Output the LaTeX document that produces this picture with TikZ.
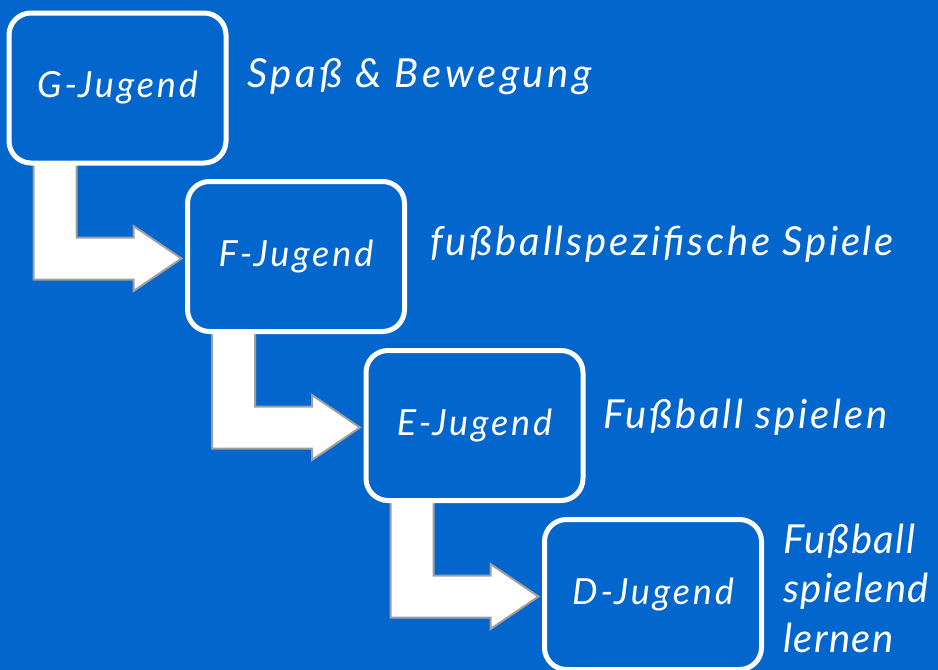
\documentclass[tikz,border=0pt]{standalone}
\usepackage{fontspec}
\setmainfont{Lato}[LetterSpace=7]
\usepackage{tikz}
\usetikzlibrary{calc, positioning}
\definecolor{bgblue}{RGB}{2,102,204}
\definecolor{arrowgray}{RGB}{160,160,160}
\pgfdeclarelayer{bg}
\pgfsetlayers{bg,main}
\tikzset{
    jugend/.style = {rectangle, draw=white, fill=bgblue, line width=5pt, rounded corners=22pt, minimum width=217pt, minimum height=150pt, inner sep=0pt, outer sep=0pt, text=white, font=\fontsize{36}{40}\selectfont\itshape\addfontfeature{LetterSpace=8}},
    aim/.style = {text=white, inner sep=0pt, align=left, font=\fontsize{40}{50}\selectfont\itshape},
    bentarrow/.style = {draw=arrowgray, fill=white, line width=2pt, line join=miter}
}
% bent arrow from the bottom of one box to the left side of the next
\newcommand{\stairarrow}[2]{%
    \begin{pgfonlayer}{bg}
    \path [bentarrow] let \p1 = (#1.south west), \p2 = (#2.west) in
        (\x1+24.5pt, \y1) -- (\x1+24.5pt, \y2-23pt) -- (\x2-54pt, \y2-23pt)
        -- (\x2-54pt, \y2-34.5pt) -- (\x2-6pt, \y2-2pt) -- (\x2-54pt, \y2+30.5pt)
        -- (\x2-54pt, \y2+19pt) -- (\x1+67.5pt, \y2+19pt) -- (\x1+67.5pt, \y1) -- cycle;
    \end{pgfonlayer}}

\begin{document}
\begin{tikzpicture}[x=1pt, y=-1pt]
    \begin{pgfonlayer}{bg}
    \fill [bgblue] (0,0) rectangle (938,670);
    \end{pgfonlayer}
    \useasboundingbox (0,0) rectangle (938,670);

    % --- NODES ---
    \node [jugend] (G) at (117.5,88) {G-Jugend};
    \node [jugend] (F) at (296,256.5) {F-Jugend};
    \node [jugend] (E) at (474.5,425.5) {E-Jugend};
    \node [jugend] (D) at (653,594.5) {D-Jugend};

    % --- LABELS ---
    \node [aim, anchor=base west] (gaim) at (247,87) {\addfontfeature{LetterSpace=9}Spaß \& Bewegung};
    \node [aim, anchor=base west] (faim) at (430,255) {fußballspezifische Spiele};
    \node [aim, anchor=base west] (eaim) at (603,428) {Fußball spielen};
    \node [aim, anchor=base west, font=\fontsize{40}{49.5}\selectfont\itshape\addfontfeature{LetterSpace=3.5}] (daim) at (783,652) {Fußball\\spielend\\lernen};

    % --- ARROWS ---
    \stairarrow{G}{F}
    \stairarrow{F}{E}
    \stairarrow{E}{D}
\end{tikzpicture}
\end{document}
